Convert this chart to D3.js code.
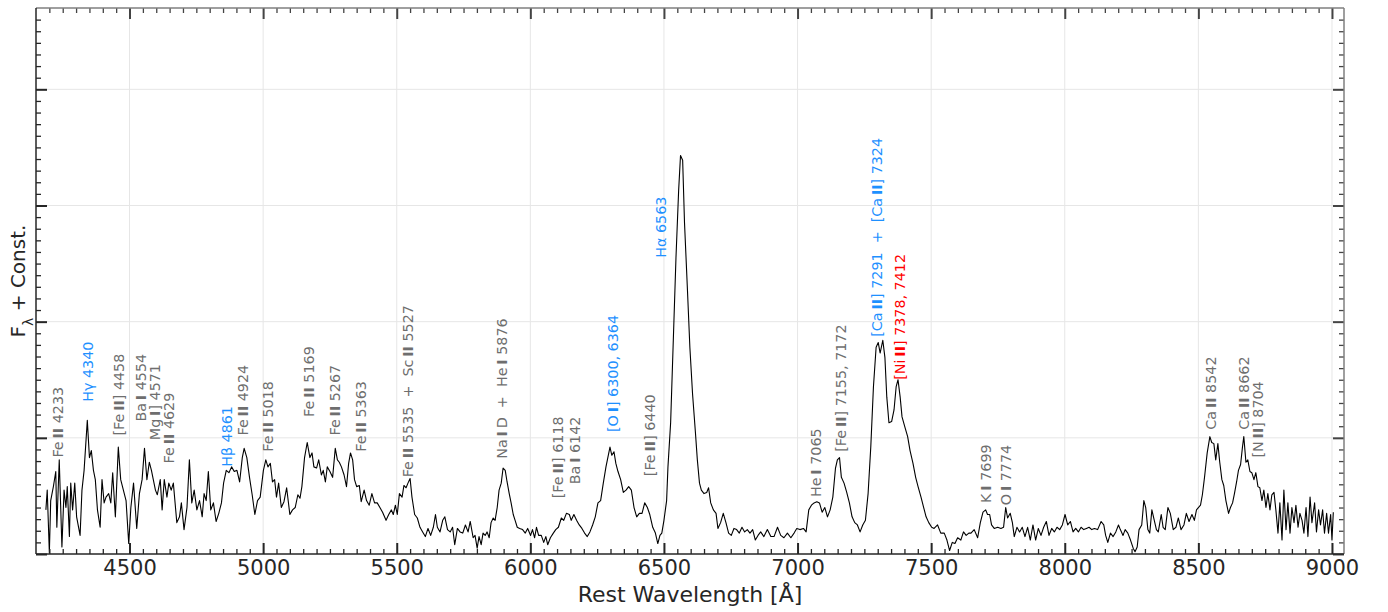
<!DOCTYPE html>
<html>
<head>
<meta charset="utf-8">
<script src="https://cdn.jsdelivr.net/npm/d3@7"></script>
<style>
  body { margin: 0; background: #fff; }
  svg { display: block; font-family: "DejaVu Sans", sans-serif; }
  .lineLabel { white-space: pre; }
</style>
</head>
<body>
<svg id="chart" width="1388" height="612"></svg>
<script>
/* ------------ Data ----------------*/
const wavelength = [
  4187, 4192, 4200, 4205, 4215, 4224, 4228, 4237, 4247, 4255, 4262, 4267, 4275, 4280, 4287, 4295, 4302, 4315, 4322, 4330,
  4342, 4350, 4357, 4365, 4372, 4380, 4390, 4397, 4405, 4412, 4422, 4430, 4437, 4447, 4458, 4467, 4477, 4487, 4497, 4505,
  4515, 4527, 4537, 4547, 4556, 4565, 4574, 4582, 4589, 4597, 4604, 4615, 4622, 4630, 4640, 4647, 4656, 4664, 4677, 4687,
  4694, 4704, 4715, 4724, 4733, 4742, 4752, 4762, 4772, 4779, 4787, 4795, 4804, 4814, 4824, 4834, 4844, 4852, 4862, 4872,
  4882, 4892, 4902, 4912, 4922, 4929, 4939, 4949, 4959, 4969, 4979, 4989,
  5001, 5010, 5018, 5027, 5035, 5043, 5050, 5058, 5068, 5078, 5088, 5100, 5110, 5120, 5130, 5138, 5145, 5155, 5165, 5175,
  5183, 5190, 5200, 5208, 5218, 5225, 5233, 5240, 5250, 5260, 5270, 5278, 5285, 5293, 5303, 5312, 5320, 5327, 5335, 5342,
  5350, 5360, 5367, 5378, 5387, 5397, 5407, 5417, 5427, 5437, 5447, 5460, 5470, 5480, 5487, 5495, 5502, 5510, 5520, 5527,
  5535, 5542, 5550, 5557, 5567, 5577, 5587, 5597, 5607, 5617, 5627, 5637, 5645, 5652, 5662, 5672, 5680, 5690, 5700, 5709,
  5717, 5727, 5737, 5747, 5757, 5767, 5775,
  5786, 5793, 5801, 5808, 5816, 5823, 5831, 5838, 5846, 5853, 5861, 5868, 5876, 5883, 5891, 5898, 5906, 5913, 5921, 5928,
  5936, 5943, 5951, 5960, 5971, 5981, 5990, 6001, 6008, 6016, 6023, 6031, 6041, 6050, 6058, 6065, 6075, 6086, 6095, 6105,
  6116, 6125, 6135, 6146, 6153, 6163, 6173, 6183, 6193, 6203, 6213, 6223, 6233, 6243, 6253, 6263, 6273, 6283, 6290, 6298,
  6305, 6313, 6320, 6328, 6338, 6348, 6358, 6368, 6378, 6388, 6398, 6408, 6418, 6428, 6438, 6447, 6458, 6468, 6477, 6485,
  6492, 6500, 6510,
  6515, 6525, 6535, 6545, 6555, 6562, 6570, 6577, 6588, 6597, 6607, 6618, 6625, 6633, 6640, 6650, 6660, 6667, 6675, 6685,
  6695, 6702, 6712, 6722, 6732, 6742, 6752, 6762, 6772, 6782, 6792, 6802, 6812, 6822, 6832, 6842, 6852,
  6862, 6874, 6887, 6900, 6912, 6925, 6937, 6949, 6962, 6975, 6987, 6997, 7009, 7022, 7032, 7042, 7052, 7062, 7072, 7082,
  7092, 7102, 7112, 7122, 7132, 7142, 7149, 7157, 7164, 7174, 7184, 7194, 7204, 7214, 7224, 7234, 7244, 7254, 7264, 7274,
  7284, 7294, 7302, 7309, 7319, 7327, 7334, 7342, 7352, 7361, 7369, 7376, 7384, 7391, 7402, 7412, 7421, 7432, 7442, 7451,
  7462, 7472, 7481, 7491, 7502, 7511, 7524, 7536, 7549, 7559, 7569, 7579, 7589, 7599, 7611, 7621, 7631, 7641,
  7649, 7661, 7674, 7684, 7694, 7704, 7711, 7719, 7726, 7736, 7749, 7761, 7771, 7779, 7786, 7796, 7804, 7811, 7821, 7831,
  7841, 7851, 7861, 7871, 7881, 7891, 7901, 7911, 7921, 7931, 7941, 7951, 7961, 7971, 7981, 7991, 8001, 8011, 8021, 8031,
  8041, 8051, 8061, 8071, 8081, 8091, 8101, 8111, 8123, 8136, 8146, 8153, 8161, 8171, 8181, 8191, 8201, 8208, 8218, 8226,
  8236, 8246, 8256, 8263, 8271, 8278, 8288, 8296, 8303, 8311, 8318, 8326, 8335, 8343, 8350, 8361, 8368, 8376, 8386, 8395,
  8406, 8416, 8425, 8435, 8446, 8455, 8465, 8476, 8485, 8493, 8500, 8508, 8515, 8523, 8533, 8543, 8550, 8558, 8565, 8573,
  8580, 8588, 8595, 8603, 8613, 8620, 8628, 8635, 8643, 8650, 8658, 8665, 8670, 8678, 8685, 8693, 8700, 8708, 8715, 8723,
  8730, 8738, 8745, 8753, 8760, 8768, 8775, 8783, 8790, 8798, 8805, 8813, 8820, 8828, 8835, 8843, 8850, 8858, 8865, 8873,
  8880, 8888, 8895, 8903, 8910, 8918, 8925, 8935, 8942, 8950, 8957, 8965, 8972, 8980, 8987, 8995, 9000, 9005
];

const flux = [
  0.38, 0.55, 0.01, 0.46, 0.58, 0.71, 0.23, 0.81, 0.06, 0.55, 0.40, 0.58, 0.15, 0.61, 0.38, 0.61, 0.32, 0.16, 0.55, 0.72,
  1.15, 0.83, 0.89, 0.72, 0.64, 0.38, 0.23, 0.64, 0.44, 0.49, 0.52, 0.44, 0.70, 0.32, 0.92, 0.64, 0.55, 0.46, 0.09, 0.40,
  0.61, 0.22, 0.52, 0.64, 0.91, 0.64, 0.79, 0.72, 0.64, 0.55, 0.51, 0.64, 0.38, 0.64, 0.49, 0.61, 0.55, 0.61, 0.27, 0.32,
  0.44, 0.21, 0.40, 0.81, 0.44, 0.55, 0.38, 0.46, 0.32, 0.52, 0.46, 0.71, 0.38, 0.44, 0.28, 0.35, 0.44, 0.61, 0.72, 0.70,
  0.75, 0.71, 0.72, 0.62, 0.83, 0.91, 0.83, 0.66, 0.51, 0.34, 0.46, 0.49,
  0.72, 0.81, 0.75, 0.78, 0.62, 0.64, 0.49, 0.61, 0.40, 0.45, 0.57, 0.34, 0.38, 0.40, 0.51, 0.48, 0.58, 0.83, 0.96, 0.83,
  0.87, 0.75, 0.74, 0.81, 0.68, 0.72, 0.62, 0.75, 0.71, 0.66, 0.91, 0.81, 0.79, 0.75, 0.68, 0.58, 0.78, 0.87, 0.81, 0.64,
  0.58, 0.59, 0.45, 0.55, 0.46, 0.42, 0.52, 0.44, 0.44, 0.40, 0.36, 0.29, 0.34, 0.38, 0.34, 0.42, 0.34, 0.52, 0.49, 0.59,
  0.57, 0.61, 0.65, 0.49, 0.34, 0.31, 0.23, 0.19, 0.15, 0.22, 0.16, 0.23, 0.34, 0.23, 0.19, 0.29, 0.32, 0.21, 0.19, 0.23,
  0.08, 0.22, 0.19, 0.18, 0.25, 0.19, 0.28,
  0.14, 0.16, 0.05, 0.15, 0.08, 0.18, 0.16, 0.19, 0.14, 0.27, 0.31, 0.29, 0.40, 0.55, 0.61, 0.74, 0.72, 0.62, 0.52, 0.44,
  0.34, 0.29, 0.23, 0.22, 0.21, 0.18, 0.22, 0.16, 0.21, 0.14, 0.23, 0.16, 0.16, 0.10, 0.15, 0.08, 0.14, 0.18, 0.21, 0.23,
  0.31, 0.29, 0.35, 0.34, 0.29, 0.34, 0.29, 0.25, 0.22, 0.18, 0.15, 0.19, 0.25, 0.32, 0.44, 0.46, 0.61, 0.75, 0.83, 0.92,
  0.85, 0.88, 0.78, 0.71, 0.64, 0.53, 0.55, 0.58, 0.55, 0.40, 0.32, 0.35, 0.35, 0.44, 0.40, 0.34, 0.23, 0.18, 0.09, 0.16,
  0.18, 0.29, 0.46,
  0.75, 1.13, 1.84, 2.55, 3.13, 3.43, 3.39, 2.85, 2.27, 1.78, 1.38, 1.04, 0.81, 0.61, 0.55, 0.52, 0.53, 0.57, 0.44, 0.38,
  0.35, 0.22, 0.27, 0.35, 0.27, 0.18, 0.16, 0.22, 0.21, 0.18, 0.23, 0.19, 0.21, 0.18, 0.21, 0.12, 0.16,
  0.19, 0.15, 0.21, 0.15, 0.15, 0.23, 0.16, 0.14, 0.18, 0.14, 0.18, 0.22, 0.21, 0.22, 0.19, 0.38, 0.42, 0.44, 0.45, 0.44,
  0.36, 0.40, 0.32, 0.38, 0.49, 0.74, 0.81, 0.83, 0.66, 0.61, 0.53, 0.44, 0.32, 0.27, 0.25, 0.19, 0.25, 0.29, 0.52, 0.92,
  1.44, 1.78, 1.82, 1.73, 1.84, 1.69, 1.35, 1.13, 1.14, 1.24, 1.44, 1.50, 1.35, 1.18, 1.09, 1.01, 0.89, 0.78, 0.66, 0.58,
  0.49, 0.40, 0.32, 0.27, 0.23, 0.22, 0.25, 0.18, 0.18, 0.12, 0.03, 0.10, 0.09, 0.14, 0.12, 0.19, 0.16, 0.18,
  0.18, 0.21, 0.14, 0.27, 0.36, 0.38, 0.34, 0.34, 0.25, 0.22, 0.23, 0.22, 0.23, 0.40, 0.31, 0.35, 0.27, 0.15, 0.23, 0.19,
  0.23, 0.15, 0.23, 0.12, 0.25, 0.12, 0.22, 0.16, 0.23, 0.28, 0.16, 0.22, 0.19, 0.23, 0.21, 0.25, 0.34, 0.25, 0.28, 0.19,
  0.22, 0.19, 0.23, 0.21, 0.22, 0.23, 0.21, 0.22, 0.21, 0.28, 0.25, 0.16, 0.10, 0.18, 0.15, 0.19, 0.25, 0.21, 0.16, 0.21,
  0.18, 0.12, 0.05, 0.02, 0.06, 0.21, 0.25, 0.46, 0.40, 0.21, 0.18, 0.38, 0.29, 0.21, 0.19, 0.34, 0.23, 0.21, 0.40, 0.35,
  0.21, 0.23, 0.31, 0.21, 0.25, 0.35, 0.28, 0.34, 0.29, 0.38, 0.40, 0.42, 0.51, 0.66, 0.87, 1.01, 0.96, 0.95, 0.81, 0.95,
  0.79, 0.64, 0.59, 0.46, 0.35, 0.40, 0.44, 0.52, 0.62, 0.72, 0.77, 0.92, 1.01, 0.79, 0.81, 0.71, 0.70, 0.64, 0.70, 0.58,
  0.57, 0.46, 0.55, 0.40, 0.52, 0.38, 0.51, 0.53, 0.38, 0.18, 0.44, 0.12, 0.55, 0.21, 0.44, 0.18, 0.40, 0.27, 0.42, 0.23,
  0.35, 0.29, 0.18, 0.40, 0.15, 0.49, 0.27, 0.44, 0.19, 0.38, 0.25, 0.38, 0.18, 0.35, 0.18, 0.34, 0.12, 0.36
];

// line identifications: text (*...* = bold ion stage), where the label sits, and which group it belongs to
const lineLabels = [
  'Fe\u2009*II* 4233', 'H\u03b3 4340', '[Fe\u2009*II*] 4458', 'Ba\u2009*I* 4554', 'Mg\u2009*I*] 4571', 'Fe\u2009*II* 4629',
  'H\u03b2 4861', 'Fe\u2009*II* 4924', 'Fe\u2009*II* 5018', 'Fe\u2009*II* 5169', 'Fe\u2009*II* 5267', 'Fe\u2009*II* 5363',
  'Fe\u2009*II* 5535  +  Sc\u2009*II* 5527', 'Na\u2009*I*\u2009D  +  He\u2009*I* 5876', '[Fe\u2009*II*] 6118', 'Ba\u2009*I* 6142',
  '[O\u2009*I*] 6300, 6364', '[Fe\u2009*II*] 6440', 'H\u03b1 6563', 'He\u2009*I* 7065', '[Fe\u2009*II*] 7155, 7172',
  '[Ca\u2009*II*] 7291  +  [Ca\u2009*II*] 7324', '[Ni\u2009*II*] 7378, 7412', 'K\u2009*I* 7699', 'O\u2009*I* 7774',
  'Ca\u2009*II* 8542', 'Ca\u2009*II* 8662', '[N\u2009*II*] 8704'
];
const lineLabelWave = [
  4232, 4345, 4461, 4543, 4594, 4648, 4864, 4924, 5019, 5171, 5268, 5367,
  5540, 5892, 6102, 6165, 6308, 6446, 6487, 7068, 7162,
  7297, 7383, 7705, 7778, 8548, 8670, 8721
];
const lineLabelFlux = [
  0.83, 1.31, 1.02, 1.14, 0.98, 0.78, 0.75, 1.02, 0.88, 1.18, 1.02, 0.88,
  0.66, 0.82, 0.48, 0.60, 1.05, 0.67, 2.55, 0.49, 0.88,
  1.87, 1.50, 0.44, 0.42, 1.07, 1.07, 0.83
];
const lineGroup = [
  'other', 'key', 'other', 'other', 'other', 'other', 'key', 'other', 'other', 'other', 'other', 'other',
  'other', 'other', 'other', 'other', 'key', 'other', 'key', 'other', 'other',
  'key', 'nickel', 'other', 'other', 'other', 'other', 'other'
];

const xMajorTicks = [4500, 5000, 5500, 6000, 6500, 7000, 7500, 8000, 8500, 9000];
const xTickLabels = ['4500', '5000', '5500', '6000', '6500', '7000', '7500', '8000', '8500', '9000'];
const yMajorTicks = [0, 1, 2, 3, 4];

/* ------------ Layout ----------------*/
const margin = { left: 36, right: 1344, top: 8, bottom: 554 };
const groupColors = { other: '#6e6e6e', key: '#1e90ff', nickel: '#ff0000' };
const axisColor = '#262626';

const svg = d3.select('#chart');

const x = d3.scaleLinear().domain([4150, 9045]).range([margin.left, margin.right]);
const y = d3.scaleLinear().domain([0, 4.7]).range([margin.bottom, margin.top]);

const xMinorTicks = d3.range(4200, 9001, 50).filter(v => v % 500 !== 0);
const yMinorTicks = d3.range(1, 47).filter(v => v % 10 !== 0).map(v => v / 10);

/* ------------ Grid ----------------*/
const grid = svg.append('g').attr('class', 'grid');
grid.selectAll('.vgrid')
  .data(xMajorTicks)
  .join('line')
  .attr('class', 'vgrid')
  .attr('x1', d => x(d))
  .attr('x2', d => x(d))
  .attr('y1', margin.top)
  .attr('y2', margin.bottom)
  .attr('stroke', '#e6e6e6')
  .attr('stroke-width', 1);
grid.selectAll('.hgrid')
  .data(yMajorTicks.filter(d => d > 0))
  .join('line')
  .attr('class', 'hgrid')
  .attr('x1', margin.left)
  .attr('x2', margin.right)
  .attr('y1', d => y(d))
  .attr('y2', d => y(d))
  .attr('stroke', '#e6e6e6')
  .attr('stroke-width', 1);

/* ------------ Spectrum ----------------*/
svg.append('clipPath')
  .attr('id', 'plotClip')
  .append('rect')
  .attr('x', margin.left)
  .attr('y', margin.top)
  .attr('width', margin.right - margin.left)
  .attr('height', margin.bottom - margin.top);

const spectrum = d3.zip(wavelength, flux);
const line = d3.line()
  .x(d => x(d[0]))
  .y(d => y(d[1]));

svg.append('path')
  .datum(spectrum)
  .attr('clip-path', 'url(#plotClip)')
  .attr('d', line)
  .attr('fill', 'none')
  .attr('stroke', '#000')
  .attr('stroke-width', 1.1)
  .attr('stroke-linejoin', 'round');

/* ------------ Axes ----------------*/
const styleAxis = (g, color, width) => {
  g.select('.domain').remove();
  g.selectAll('.tick line').attr('stroke', color).attr('stroke-width', width);
};

const addAxis = (axis, tx, ty, values, size, width, color, labels) => {
  const a = axis.tickValues(values).tickSize(-size).tickSizeOuter(0);
  if (labels) {
    a.tickFormat((d, i) => labels[i]).tickPadding(6);
  } else {
    a.tickFormat('');
  }
  const g = svg.append('g')
    .attr('transform', `translate(${tx},${ty})`)
    .call(a)
    .call(s => styleAxis(s, color, width));
  g.selectAll('.tick text')
    .attr('fill', axisColor)
    .style('font-size', '21px')
    .style('font-family', '"DejaVu Sans", sans-serif');
  return g;
};

// bottom / top
addAxis(d3.axisBottom(x), 0, margin.bottom, xMinorTicks, 5, 1.3, axisColor);
addAxis(d3.axisBottom(x), 0, margin.bottom, xMajorTicks, 11, 2, axisColor, xTickLabels);
addAxis(d3.axisTop(x), 0, margin.top, xMinorTicks, 5, 1.3, '#444');
addAxis(d3.axisTop(x), 0, margin.top, xMajorTicks, 11, 2, '#444');
// left / right
addAxis(d3.axisLeft(y), margin.left, 0, yMinorTicks, 5, 1.3, axisColor);
addAxis(d3.axisLeft(y), margin.left, 0, yMajorTicks, 11, 2, axisColor);
addAxis(d3.axisRight(y), margin.right, 0, yMinorTicks, 5, 1.3, '#444');
addAxis(d3.axisRight(y), margin.right, 0, yMajorTicks, 11, 2, '#444');

// spines
const spines = svg.append('g').attr('fill', 'none').attr('stroke-width', 1.5);
spines.append('line')
  .attr('x1', margin.left).attr('x2', margin.right)
  .attr('y1', margin.top).attr('y2', margin.top)
  .attr('stroke', '#7f7f7f');
spines.append('line')
  .attr('x1', margin.right).attr('x2', margin.right)
  .attr('y1', margin.top).attr('y2', margin.bottom)
  .attr('stroke', '#7f7f7f');
spines.append('line')
  .attr('x1', margin.left).attr('x2', margin.right)
  .attr('y1', margin.bottom).attr('y2', margin.bottom)
  .attr('stroke', axisColor);
spines.append('line')
  .attr('x1', margin.left).attr('x2', margin.left)
  .attr('y1', margin.top).attr('y2', margin.bottom)
  .attr('stroke', axisColor);

/* ------------ Axis titles ----------------*/
svg.append('text')
  .attr('x', (margin.left + margin.right) / 2)
  .attr('y', 602)
  .attr('text-anchor', 'middle')
  .attr('fill', axisColor)
  .style('font-size', '22px')
  .text('Rest Wavelength [\u00c5]');

const yTitle = svg.append('text')
  .attr('transform', `translate(25,${(margin.top + margin.bottom) / 2}) rotate(-90)`)
  .attr('text-anchor', 'middle')
  .attr('fill', axisColor)
  .style('font-size', '20px');
yTitle.append('tspan').text('F');
yTitle.append('tspan').attr('baseline-shift', 'sub').style('font-size', '14px').text('\u03bb');
yTitle.append('tspan').text(' + Const.');

/* ------------ Line identifications ----------------*/
lineLabels.forEach((label, i) => {
  const t = svg.append('text')
    .attr('class', 'lineLabel')
    .attr('transform', `translate(${x(lineLabelWave[i])},${y(lineLabelFlux[i])}) rotate(-90)`)
    .attr('dy', '0.36em')
    .attr('text-anchor', 'start')
    .attr('fill', groupColors[lineGroup[i]])
    .style('font-size', '14.3px');
  label.split('*').forEach((part, j) => {
    t.append('tspan')
      .attr('font-weight', j % 2 ? 'bold' : 'normal')
      .text(part);
  });
});
</script>
</body>
</html>
